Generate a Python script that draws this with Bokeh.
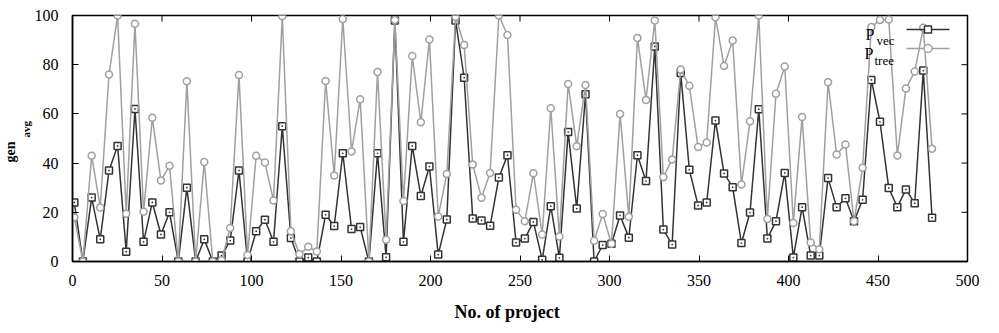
from bokeh.plotting import figure
from bokeh.models import (Range1d, SingleIntervalTicker, Label, Title, Arrow,
                          BoxAnnotation)
from bokeh.embed import file_html
from bokeh.resources import INLINE

project_no = [1.0, 5.8, 10.7, 15.5, 20.4, 25.2, 30.0, 34.9, 39.7, 44.6,
              49.4, 54.2, 59.1, 63.9, 68.8, 73.6, 78.4, 83.3, 88.1, 93.0,
              97.8, 102.6, 107.5, 112.3, 117.2, 122.0, 126.8, 131.7, 136.5, 141.4,
              146.2, 151.0, 155.9, 160.7, 165.6, 170.4, 175.2, 180.1, 184.9, 189.8,
              194.6, 199.4, 204.3, 209.1, 214.0, 218.8, 223.6, 228.5, 233.3, 238.2,
              243.0, 247.8, 252.7, 257.5, 262.4, 267.2, 272.0, 276.9, 281.7, 286.6,
              291.4, 296.2, 301.1, 305.9, 310.8, 315.6, 320.4, 325.3, 330.1, 335.0,
              339.8, 344.6, 349.5, 354.3, 359.2, 364.0, 368.8, 373.7, 378.5, 383.4,
              388.2, 393.0, 397.9, 402.7, 407.6, 412.4, 417.2, 422.1, 426.9, 431.8,
              436.6, 441.4, 446.3, 451.1, 456.0, 460.8, 465.6, 470.5, 475.3, 480.2]

p_vec = [24, 0, 26, 9, 37, 47, 4, 62, 8, 24,
         11, 20, 0, 30, 0, 9, 0, 2.4, 8.5, 37,
         0, 12.3, 17, 8, 55, 9.6, 0, 1.6, 0, 19,
         14.4, 44, 13.2, 14, 0, 44, 1.7, 98, 8, 47,
         26.6, 38.6, 2.8, 17.1, 98, 74.7, 17.5, 16.7, 14.5, 34.1,
         43.2, 7.7, 9.3, 16.1, 0.7, 22.5, 1.5, 52.6, 21.5, 68,
         0, 6.7, 7.2, 18.7, 9.7, 43.2, 32.7, 87.4, 13, 6.9,
         76.6, 37.3, 22.8, 24, 57.3, 35.8, 30.2, 7.5, 19.9, 61.9,
         9.3, 16.4, 36, 1.6, 22.1, 2.4, 2.4, 33.9, 22.1, 25.7,
         16.4, 25.1, 73.8, 56.8, 29.9, 22.1, 29.3, 23.7, 77.6, 17.8]

p_tree = [18, 0, 43, 22, 76, 100, 19.4, 96.6, 20.2, 58.4,
          32.9, 38.9, 0, 73.3, 0, 40.4, 0, 0.5, 13.6, 75.8,
          2.6, 43, 40.2, 24.8, 99.7, 12.3, 3, 6, 4.1, 73.4,
          35, 98.6, 44.7, 66, 0, 77, 8.8, 98.2, 24.6, 83.5,
          56.6, 90.2, 18.3, 35.6, 99.5, 88, 39.4, 25.9, 36, 100,
          92.1, 21, 16.4, 35.9, 11, 62.3, 10.2, 72.2, 46.9, 71.7,
          8.4, 19.3, 7.2, 60, 18.2, 90.9, 65.7, 98, 34.3, 41.5,
          78, 71.4, 46.5, 48.4, 99.3, 79.5, 89.8, 31.3, 57, 100,
          17.3, 68.2, 79.3, 15.7, 58.7, 7.7, 5, 72.9, 43.5, 47.6,
          16.4, 38.1, 95.3, 98.2, 98.4, 43.1, 70.3, 77.2, 95, 45.8]

x_ticks = [0, 50, 100, 150, 200, 250, 300, 350, 400, 450, 500]
y_ticks = [0, 20, 40, 60, 80, 100]

FONT = "Liberation Serif"
VEC_COLOR = "#333333"
TREE_COLOR = "#a0a0a0"

X_MAX, Y_MAX = 500, 100
FRAME_W, FRAME_H = 896, 246
TICK_PX = 6

p = figure(width=999, height=333, output_backend="svg", toolbar_location=None,
           x_range=Range1d(0, X_MAX), y_range=Range1d(0, Y_MAX),
           min_border_left=71, min_border_right=32,
           min_border_top=15, min_border_bottom=72)
p.background_fill_color = "white"
p.border_fill_color = "white"
p.grid.visible = False
p.outline_line_color = "black"
p.outline_line_width = 1.5

for ax, step in ((p.xaxis[0], 50), (p.yaxis[0], 20)):
    ax.ticker = SingleIntervalTicker(interval=step)
    ax.axis_line_color = "black"
    ax.axis_line_width = 1.5
    ax.major_tick_in = TICK_PX
    ax.major_tick_out = 0
    ax.major_tick_line_color = "black"
    ax.major_tick_line_width = 1
    ax.minor_tick_line_color = None
    ax.major_label_text_font = FONT
    ax.major_label_text_font_size = "16px"
    ax.major_label_text_color = "black"
p.xaxis[0].major_label_standoff = 9
p.yaxis[0].major_label_standoff = 10

# mirrored inward ticks on the top and right edges
tick_dy = TICK_PX * Y_MAX / FRAME_H
tick_dx = TICK_PX * X_MAX / FRAME_W
p.segment(x0=x_ticks, y0=[Y_MAX] * len(x_ticks), x1=x_ticks,
          y1=[Y_MAX - tick_dy] * len(x_ticks), line_color="black", line_width=1)
p.segment(x0=[X_MAX] * len(y_ticks), y0=y_ticks, x1=[X_MAX - tick_dx] * len(y_ticks),
          y1=y_ticks, line_color="black", line_width=1)

p.line(project_no, p_vec, line_color=VEC_COLOR, line_width=1.5)
p.scatter(project_no, p_vec, marker="square_dot", size=7,
          line_color=VEC_COLOR, fill_color="white", line_width=1.5)
p.line(project_no, p_tree, line_color=TREE_COLOR, line_width=1.5)
p.scatter(project_no, p_tree, marker="circle", size=7,
          line_color=TREE_COLOR, fill_color="white", line_width=1.5)


# key (gnuplot style: text, then sample line with marker)
def key_sample(y, color, round_marker):
    p.add_layout(Arrow(x_start=834, y_start=y, x_end=877, y_end=y,
                       start_units="screen", end_units="screen",
                       start=None, end=None, line_color=color, line_width=1.5))
    half = 4 if round_marker else 3.5
    p.add_layout(BoxAnnotation(left=855.5 - half, right=855.5 + half,
                               bottom=y - half, top=y + half,
                               left_units="screen", right_units="screen",
                               bottom_units="screen", top_units="screen",
                               fill_color="white", fill_alpha=1,
                               line_color=color, line_width=1.5, line_alpha=1,
                               border_radius=4 if round_marker else 0,
                               editable=False))


key_sample(232, VEC_COLOR, False)
key_sample(213, TREE_COLOR, True)


def lab(x, y, text, size):
    p.add_layout(Label(x=x, y=y, x_units="screen", y_units="screen", text=text,
                       text_font=FONT, text_font_size=size, text_color="black",
                       text_baseline="alphabetic"))


lab(793, 227, "P", "16px")
lab(804, 221, "vec", "13px")
lab(792, 208, "P", "16px")
lab(802, 201, "tree", "13px")

# axis titles
p.add_layout(Title(text="avg", align="left", offset=124, standoff=0,
                   text_font=FONT, text_font_size="11px", text_font_style="bold",
                   text_color="black"), "left")
p.add_layout(Title(text="gen", align="left", offset=99, standoff=0,
                   text_font=FONT, text_font_size="14px", text_font_style="bold",
                   text_color="black"), "left")
p.add_layout(Title(text="No. of project", align="left", offset=382, standoff=23,
                   text_font=FONT, text_font_size="18px", text_font_style="bold",
                   text_color="black"), "below")

open("out.html", "w").write(file_html(p, INLINE))
